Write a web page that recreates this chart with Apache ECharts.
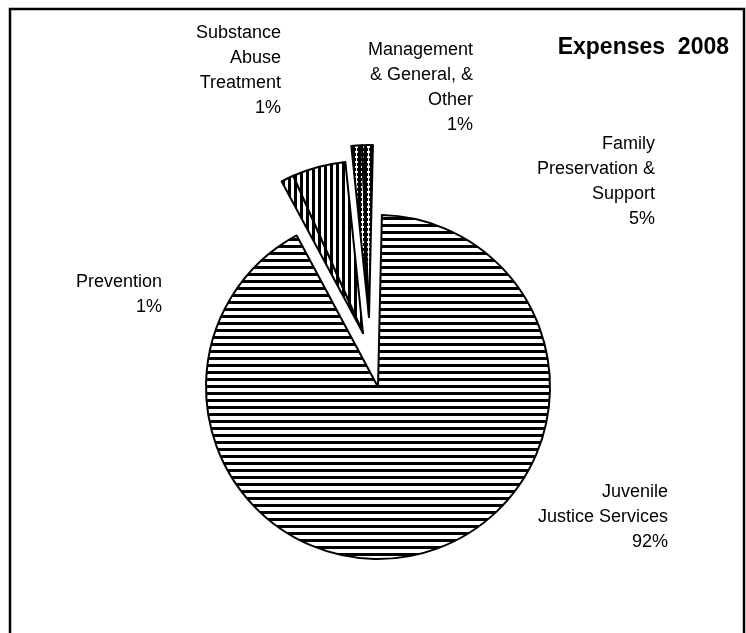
<!DOCTYPE html>
<html>
<head>
<meta charset="utf-8">
<script src="https://cdn.jsdelivr.net/npm/echarts@6/dist/echarts.min.js"></script>
<style>
html,body{margin:0;padding:0;background:#fff;}
#chart{width:746px;height:633px;}
</style>
</head>
<body>
<div id="chart"></div>
<script>
// ---- data ----
const categories = ['Juvenile\nJustice Services', 'Prevention', 'Family\nPreservation &\nSupport', 'Substance\nAbuse\nTreatment', 'Management\n& General, &\nOther'];
const values = [91.8, 1.2, 5.0, 1.0, 1.0];
const titleText = 'Expenses  2008';

// ---- patterns ----
function tile(w, h, bg, fg, draw) {
  const c = document.createElement('canvas');
  c.width = w; c.height = h;
  const g = c.getContext('2d');
  g.fillStyle = bg; g.fillRect(0, 0, w, h);
  g.fillStyle = fg; draw(g);
  return c;
}
const hStripe = tile(8, 7, '#fff', '#000', g => g.fillRect(0, 0, 8, 3));
const vStripe = tile(6, 8, '#fff', '#000', g => g.fillRect(0, 0, 3, 8));
const grid = tile(6, 5, '#000', '#fff', g => { g.fillRect(1, 1, 3, 2); g.fillRect(2, 0, 1, 5); });
const fills = [hStripe, vStripe, vStripe, grid, grid];

// label placement (right edge x, block centre y)
const labelPos = [[668, 517], [162, 295], [655, 182], [281, 71], [473, 88]];

const cx = 378, cy = 387, R = 172;
const groups = [
  { idx: [0], center: [cx, cy], labels: true },
  { idx: [1, 2], center: [cx - 15, cy - 54], labels: false },
  { idx: [3, 4], center: [cx - 9, cy - 70], labels: false }
];

function makeData(g) {
  return values.map((v, i) => {
    const vis = g.idx.indexOf(i) >= 0;
    return {
      name: categories[i],
      value: v,
      itemStyle: vis
        ? { color: { image: fills[i], repeat: 'repeat' }, borderColor: '#000', borderWidth: 2 }
        : { color: 'rgba(0,0,0,0)', borderWidth: 0 }
    };
  });
}

const series = groups.map(g => ({
  type: 'pie',
  center: g.center,
  radius: [0, R],
  startAngle: 88.7,
  clockwise: true,
  avoidLabelOverlap: false,
  silent: true,
  animation: false,
  data: makeData(g),
  label: g.labels ? {
    show: true,
    color: '#000',
    fontFamily: '"Liberation Sans", Arial, sans-serif',
    fontSize: 18,
    lineHeight: 25,
    align: 'right',
    formatter: p => p.name + '\n' + Math.round(p.percent) + '%'
  } : { show: false },
  labelLine: { show: false },
  labelLayout: g.labels ? (p => ({
    x: labelPos[p.dataIndex][0],
    y: labelPos[p.dataIndex][1],
    align: 'right',
    verticalAlign: 'middle'
  })) : undefined
}));

const chart = echarts.init(document.getElementById('chart'), null, { renderer: 'canvas' });
chart.setOption({
  backgroundColor: '#fff',
  animation: false,
  title: {
    text: titleText,
    right: 12,
    top: 31,
    textStyle: { fontFamily: '"Liberation Sans", Arial, sans-serif', fontSize: 23, fontWeight: 'bold', color: '#000' }
  },
  graphic: [{
    type: 'rect',
    shape: { x: 10, y: 9, width: 734, height: 640 },
    style: { fill: 'none', stroke: '#000', lineWidth: 2.5 },
    silent: true
  }],
  series: series
});
</script>
</body>
</html>
